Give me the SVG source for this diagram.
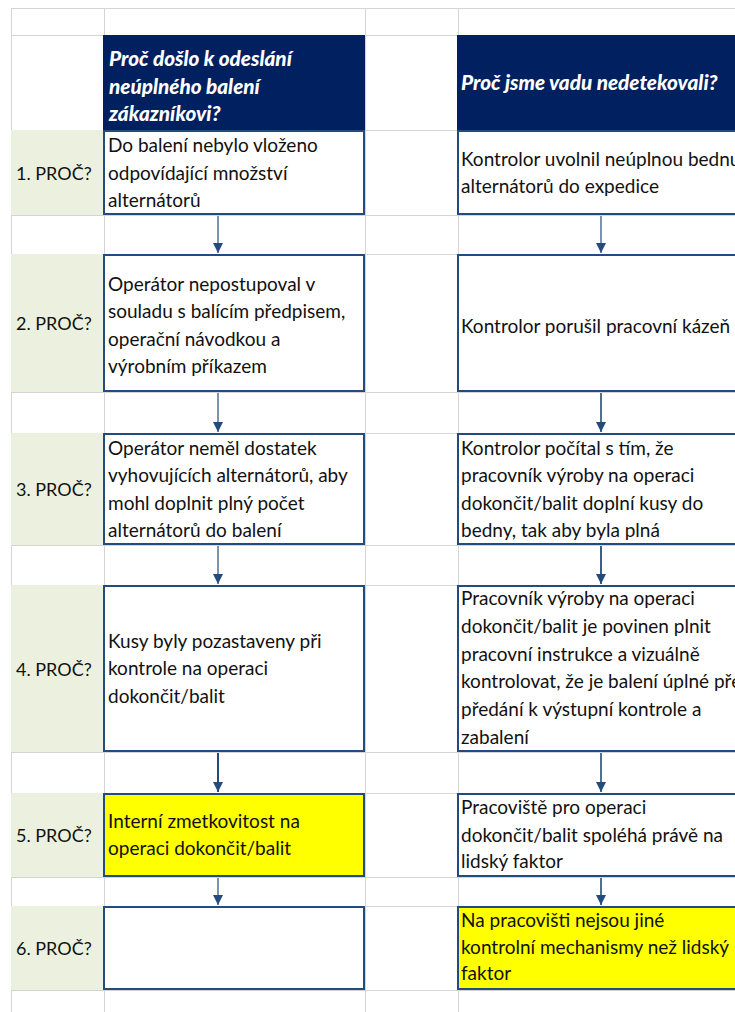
<svg xmlns="http://www.w3.org/2000/svg" width="735" height="1012" viewBox="0 0 735 1012">
  <style>
    .grid { stroke: #d4d4d4; stroke-width: 1; fill: none; }
    .lbl { fill: #ebf1de; }
    .hdr { fill: #002060; }
    .box { fill: #ffffff; stroke: #244b7e; stroke-width: 2; }
    .hot { fill: #ffff00; stroke: #244b7e; stroke-width: 2; }
    .t { font-family: Lato, "Liberation Sans", sans-serif; font-size: 19px; fill: #111111; }
    .n { font-family: Lato, "Liberation Sans", sans-serif; font-size: 18px; fill: #111111; }
    .h { font-family: Lato, "Liberation Sans", sans-serif; font-size: 20.7px; font-weight: 900; font-style: italic; fill: #ffffff; }
    .con { stroke: #244b7e; fill: none; }
  </style>
  <defs>
    <marker id="head" markerUnits="userSpaceOnUse" markerWidth="12" markerHeight="10" refX="10" refY="5" orient="auto">
      <path d="M0,0 L10,5 L0,10 Z" fill="#244b7e"/>
    </marker>
  </defs>
  <rect width="735" height="1012" fill="#ffffff"/>

  <!-- sheet grid -->
  <g id="grid">
    <path class="grid" d="M11,8.5H735 M11,35.5H735 M11,130.5H735 M11,215.5H735 M11,254.5H735 M11,392.5H735 M11,433.5H735 M11,545.5H735 M11,585.5H735 M11,752.5H735 M11,793.5H735 M11,877.5H735 M11,906.5H735 M11,990.5H735 M11.5,8V1012 M104.5,8V1012 M365.5,8V1012 M458.5,8V1012"/>
  </g>

  <!-- row labels -->
  <g id="labels">
    <rect class="lbl" x="11" y="130" width="92" height="85"/>
    <rect class="lbl" x="11" y="254" width="92" height="138"/>
    <rect class="lbl" x="11" y="433" width="92" height="112"/>
    <rect class="lbl" x="11" y="585" width="92" height="167"/>
    <rect class="lbl" x="11" y="793" width="92" height="84"/>
    <rect class="lbl" x="11" y="906" width="92" height="84"/>
    <text class="n" x="16" y="180">1. PROČ?</text>
    <text class="n" x="16" y="330">2. PROČ?</text>
    <text class="n" x="16" y="496">3. PROČ?</text>
    <text class="n" x="16" y="676">4. PROČ?</text>
    <text class="n" x="16" y="842">5. PROČ?</text>
    <text class="n" x="16" y="955">6. PROČ?</text>
  </g>

  <!-- column headers -->
  <g id="header-left">
    <rect class="hdr" x="103" y="35" width="262" height="95"/>
    <text class="h" x="109" y="66">Proč došlo k odeslání</text>
    <text class="h" x="109" y="94">neúplného balení</text>
    <text class="h" x="109" y="121">zákazníkovi?</text>
  </g>
  <g id="header-right">
    <rect class="hdr" x="457" y="35" width="278" height="95"/>
    <text class="h" x="461" y="90">Proč jsme vadu nedetekovali?</text>
  </g>

  <!-- left column -->
  <g id="left-1">
    <rect class="box" x="104" y="131" width="260" height="83"/>
    <text class="t" x="108" y="152">Do balení nebylo vloženo</text>
    <text class="t" x="108" y="180">odpovídající množství</text>
    <text class="t" x="108" y="207">alternátorů</text>
  </g>
  <g id="left-2">
    <rect class="box" x="104" y="255" width="260" height="136"/>
    <text class="t" x="108" y="291">Operátor nepostupoval v</text>
    <text class="t" x="108" y="318">souladu s balícím předpisem,</text>
    <text class="t" x="108" y="346">operační návodkou a</text>
    <text class="t" x="108" y="373">výrobním příkazem</text>
  </g>
  <g id="left-3">
    <rect class="box" x="104" y="434" width="260" height="110"/>
    <text class="t" x="108" y="455">Operátor neměl dostatek</text>
    <text class="t" x="108" y="482">vyhovujících alternátorů, aby</text>
    <text class="t" x="108" y="510">mohl doplnit plný počet</text>
    <text class="t" x="108" y="537">alternátorů do balení</text>
  </g>
  <g id="left-4">
    <rect class="box" x="104" y="586" width="260" height="165"/>
    <text class="t" x="108" y="648">Kusy byly pozastaveny při</text>
    <text class="t" x="108" y="675">kontrole na operaci</text>
    <text class="t" x="108" y="703">dokončit/balit</text>
  </g>
  <g id="left-5">
    <rect class="hot" x="104" y="794" width="260" height="82"/>
    <text class="t" x="108" y="828">Interní zmetkovitost na</text>
    <text class="t" x="108" y="855">operaci dokončit/balit</text>
  </g>
  <g id="left-6">
    <rect class="box" x="104" y="907" width="260" height="82"/>
  </g>

  <!-- right column (runs past the sheet's right edge) -->
  <g id="right-1">
    <rect class="box" x="458" y="131" width="300" height="83"/>
    <text class="t" x="461" y="166">Kontrolor uvolnil neúplnou bednu</text>
    <text class="t" x="461" y="193">alternátorů do expedice</text>
  </g>
  <g id="right-2">
    <rect class="box" x="458" y="255" width="300" height="136"/>
    <text class="t" x="461" y="333">Kontrolor porušil pracovní kázeň</text>
  </g>
  <g id="right-3">
    <rect class="box" x="458" y="434" width="300" height="110"/>
    <text class="t" x="461" y="455">Kontrolor počítal s tím, že</text>
    <text class="t" x="461" y="482">pracovník výroby na operaci</text>
    <text class="t" x="461" y="510">dokončit/balit doplní kusy do</text>
    <text class="t" x="461" y="537">bedny, tak aby byla plná</text>
  </g>
  <g id="right-4">
    <rect class="box" x="458" y="586" width="300" height="165"/>
    <text class="t" x="461" y="605">Pracovník výroby na operaci</text>
    <text class="t" x="461" y="633">dokončit/balit je povinen plnit</text>
    <text class="t" x="461" y="661">pracovní instrukce a vizuálně</text>
    <text class="t" x="461" y="688">kontrolovat, že je balení úplné před</text>
    <text class="t" x="461" y="716">předání k výstupní kontrole a</text>
    <text class="t" x="461" y="744">zabalení</text>
  </g>
  <g id="right-5">
    <rect class="box" x="458" y="794" width="300" height="82"/>
    <text class="t" x="461" y="814">Pracoviště pro operaci</text>
    <text class="t" x="461" y="842">dokončit/balit spoléhá právě na</text>
    <text class="t" x="461" y="868">lidský faktor</text>
  </g>
  <g id="right-6">
    <rect class="hot" x="458" y="907" width="300" height="82"/>
    <text class="t" x="461" y="927">Na pracovišti nejsou jiné</text>
    <text class="t" x="461" y="954">kontrolní mechanismy než lidský</text>
    <text class="t" x="461" y="980">faktor</text>
  </g>

  <!-- connectors -->
  <g id="connectors">
    <path class="con" stroke-width="1.2" marker-end="url(#head)" d="M218,216V253"/>
    <path class="con" stroke-width="1.2" marker-end="url(#head)" d="M218,393V432"/>
    <path class="con" stroke-width="1.2" marker-end="url(#head)" d="M218,546V584"/>
    <path class="con" stroke-width="2" marker-end="url(#head)" d="M218,753V792"/>
    <path class="con" stroke-width="1.2" marker-end="url(#head)" d="M218,878V905"/>
    <path class="con" stroke-width="1.2" marker-end="url(#head)" d="M601,216V253"/>
    <path class="con" stroke-width="1.6" marker-end="url(#head)" d="M601,393V432"/>
    <path class="con" stroke-width="1.8" marker-end="url(#head)" d="M601,546V584"/>
    <path class="con" stroke-width="1.6" marker-end="url(#head)" d="M601,753V792"/>
    <path class="con" stroke-width="1.6" marker-end="url(#head)" d="M601,878V905"/>
  </g>
</svg>
